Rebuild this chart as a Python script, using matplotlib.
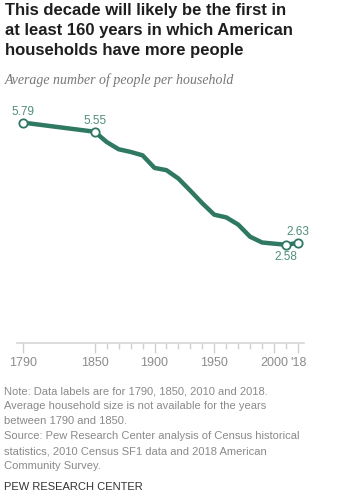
import matplotlib.pyplot as plt

# Average number of people per household, census years
years = [1790, 1850, 1860, 1870, 1880, 1890, 1900, 1910, 1920, 1930,
         1940, 1950, 1960, 1970, 1980, 1990, 2000, 2010, 2018]
size = [5.79, 5.55, 5.28, 5.09, 5.02, 4.93, 4.60, 4.54, 4.32, 4.00,
        3.67, 3.37, 3.30, 3.11, 2.79, 2.64, 2.61, 2.58, 2.63]

labelled = {1790: '5.79', 1850: '5.55', 2010: '2.58', 2018: '2.63'}
major_ticks = [1790, 1850, 1900, 1950, 2000, 2020]
major_labels = ['1790', '1850', '1900', '1950', '2000', "'18"]
minor_ticks = [1860, 1870, 1880, 1890, 1910, 1920, 1930, 1940,
               1960, 1970, 1980, 1990, 2010]

green = '#2f7862'
label_green = '#4f8f77'
grey = '#8c8c8c'

# the original chart puts 2018 in the 2020 slot of the axis
xpos = [2020 if y == 2018 else y for y in years]

W, H = 337, 499
fig = plt.figure(figsize=(W / 100, H / 100), dpi=100)
ax = fig.add_axes([17 / W, 156 / H, 287 / W, 236 / H])

ax.plot(xpos, size, color=green, lw=3.2, solid_capstyle='round',
        solid_joinstyle='round', zorder=2)
for x, y, v in zip(xpos, size, years):
    if v in labelled:
        ax.plot(x, y, 'o', ms=6, mfc='white', mec=green, mew=1.3, zorder=3)
        dy = -12 if v == 2010 else 11
        ax.text(x, y + dy / 38.1, labelled[v], ha='center', va='center',
                color=label_green, fontsize=8.5, family='Liberation Sans')

ax.set_xlim(1785, 2025)
ax.set_ylim(0, 6.2)
ax.set_yticks([])
for s in ['top', 'right', 'left']:
    ax.spines[s].set_visible(False)
ax.spines['bottom'].set_color('#d6d6d6')
ax.spines['bottom'].set_linewidth(1.2)
ax.set_xticks(major_ticks)
ax.set_xticklabels(major_labels, family='Liberation Sans', fontsize=9, color=grey)
ax.set_xticks(minor_ticks, minor=True)
ax.tick_params(axis='x', which='major', length=7, width=1, color='#d0d0d0', pad=3)
ax.tick_params(axis='x', which='minor', length=4, width=1, color='#d0d0d0')

fig.text(5 / W, 1 - 3 / H,
         'This decade will likely be the first in\nat least 160 years in which American\nhouseholds have more people',
         ha='left', va='top', fontsize=12, fontweight='bold',
         family='Liberation Sans', color='#1e1e1e', linespacing=1.42)
fig.text(5 / W, 1 - 80 / H, 'Average number of people per household',
         ha='left', va='center', fontsize=10, style='italic',
         family='Liberation Serif', color='#777777')

note = ('Note: Data labels are for 1790, 1850, 2010 and 2018.\n'
        'Average household size is not available for the years\n'
        'between 1790 and 1850.\n'
        'Source: Pew Research Center analysis of Census historical\n'
        'statistics, 2010 Census SF1 data and 2018 American\n'
        'Community Survey.')
fig.text(4 / W, 1 - 386 / H, note, ha='left', va='top', fontsize=8,
         family='Liberation Sans', color='#8a8a8a', linespacing=1.63)
fig.text(4 / W, 1 - 487 / H, 'PEW RESEARCH CENTER', ha='left', va='center',
         fontsize=8, family='Liberation Sans', color='#333333')

fig.savefig('out.png', dpi=100)
